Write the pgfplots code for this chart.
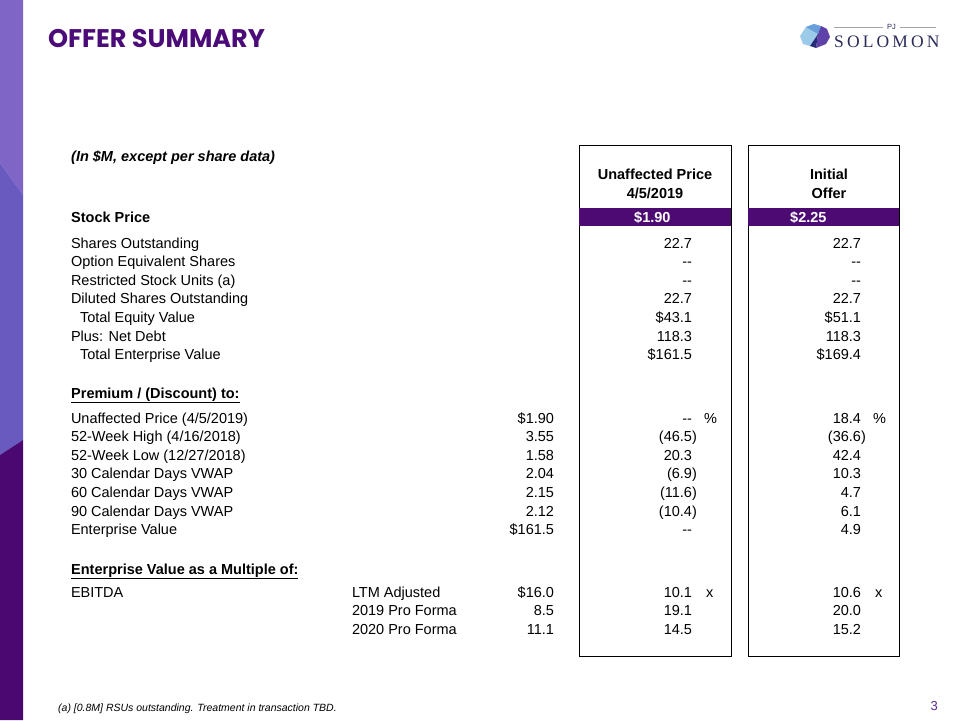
\documentclass[border=0pt]{standalone}
\usepackage{pgfplots}
\pgfplotsset{compat=1.18}
\usepackage{pgfplotstable}
\usepackage{fontspec}
\setmainfont{Liberation Sans}
\newfontfamily\titlefont{Poppins}
\newfontfamily\logofont{Liberation Serif}[LetterSpace=18]
\definecolor{band}{RGB}{77,10,115}
\definecolor{titlec}{RGB}{75,12,121}
\definecolor{stripA}{RGB}{127,102,198}
\definecolor{stripB}{RGB}{104,90,190}
\definecolor{stripC}{RGB}{74,8,112}
\definecolor{navy}{RGB}{44,44,90}
\definecolor{lblue}{RGB}{156,203,234}
\definecolor{mblue}{RGB}{105,160,218}
\definecolor{lpurp}{RGB}{95,65,170}
\definecolor{dnavy}{RGB}{40,44,120}
\definecolor{pagec}{RGB}{90,42,144}
\newcommand\body{\fontsize{14.5}{17}\selectfont}
\newcommand\ngv[1]{(#1\rlap{)}}
\newcommand\dd{-{}-}

\pgfplotstableread{
y t
248 22.7
266.6 \dd
285.2 \dd
303.8 22.7
322.4 \$43.1
341 118.3
359.6 \$161.5
423 \dd
441.6 \ngv{46.5}
460.2 20.3
478.8 \ngv{6.9}
497.4 \ngv{11.6}
516 \ngv{10.4}
534.6 \dd
597 10.1
615.6 19.1
634.2 14.5
}\colA

\pgfplotstableread{
y t
248 22.7
266.6 \dd
285.2 \dd
303.8 22.7
322.4 \$51.1
341 118.3
359.6 \$169.4
423 18.4
441.6 \ngv{36.6}
460.2 42.4
478.8 10.3
497.4 4.7
516 6.1
534.6 4.9
597 10.6
615.6 20.0
634.2 15.2
}\colB

\pgfplotstableread{
y t
423 \$1.90
441.6 3.55
460.2 1.58
478.8 2.04
497.4 2.15
516 2.12
534.6 \$161.5
597 \$16.0
615.6 8.5
634.2 11.1
}\colR

\pgfplotstableread{
x y t
71 248 {Shares Outstanding}
71 266.6 {Option Equivalent Shares}
71 285.2 {Restricted Stock Units (a)}
71 303.8 {Diluted Shares Outstanding}
80 322.4 {Total Equity Value}
71 341 {Plus: Net Debt}
80 359.6 {Total Enterprise Value}
71 423 {Unaffected Price (4/5/2019)}
71 441.6 {52-Week High (4/16/2018)}
71 460.2 {52-Week Low (12/27/2018)}
71 478.8 {30 Calendar Days VWAP}
71 497.4 {60 Calendar Days VWAP}
71 516 {90 Calendar Days VWAP}
71 534.6 {Enterprise Value}
71 597 {EBITDA}
352 597 {LTM Adjusted}
352 615.6 {2019 Pro Forma}
352 634.2 {2020 Pro Forma}
}\labels

\begin{document}
\begin{tikzpicture}
\begin{axis}[
  scale only axis, width=960pt, height=720pt,
  xmin=0, xmax=960, ymin=0, ymax=720, y dir=reverse,
  hide axis, clip=false,
  valtext/.style={only marks, mark=*, mark size=0.05pt, color=white,
    mark options={draw=white, fill=white, line width=0pt},
    nodes near coords, point meta=explicit symbolic,
    every node near coord/.append style={anchor=base east, inner sep=0pt, font=\body, text=black}},
  lbltext/.style={only marks, mark=*, mark size=0.05pt, color=white,
    mark options={draw=white, fill=white, line width=0pt},
    nodes near coords, point meta=explicit symbolic,
    every node near coord/.append style={anchor=base west, inner sep=0pt, font=\body, text=black}},
]
% background
\fill[white] (axis cs:0,0) rectangle (axis cs:960,720);
% left strip
\fill[stripA] (axis cs:0,0) -- (axis cs:23,0) -- (axis cs:23,195) -- (axis cs:0,163) -- cycle;
\fill[stripB] (axis cs:0,163) -- (axis cs:23,195) -- (axis cs:23,440) -- (axis cs:0,455) -- cycle;
\fill[stripC] (axis cs:0,455) -- (axis cs:23,440) -- (axis cs:23,720) -- (axis cs:0,720) -- cycle;
% title
\node[anchor=base west, inner sep=0pt, text=titlec, font=\titlefont\bfseries\fontsize{25.5}{28}\selectfont] at (axis cs:48,47) {OFFER SUMMARY};
% logo
\fill[lblue] (axis cs:800,36) -- (axis cs:806,27) -- (axis cs:814,24) -- (axis cs:818,34) -- (axis cs:810,46) -- (axis cs:803,44) -- cycle;
\fill[mblue] (axis cs:806,27) -- (axis cs:814,24) -- (axis cs:821,26) -- (axis cs:818,34) -- cycle;
\fill[lpurp] (axis cs:818,34) -- (axis cs:821,26) -- (axis cs:827,29) -- (axis cs:830,37) -- (axis cs:826,44) -- (axis cs:816,48) -- cycle;
\fill[dnavy] (axis cs:810,46) -- (axis cs:818,34) -- (axis cs:816,48) -- cycle;
\draw[gray!70, line width=0.7pt] (axis cs:834,27) -- (axis cs:883,27);
\draw[gray!70, line width=0.7pt] (axis cs:900,27) -- (axis cs:936,27);
\node[inner sep=0pt, text=navy, font=\fontsize{7.5}{8}\selectfont] at (axis cs:891.5,27) {PJ};
\node[anchor=base west, inner sep=0pt, text=navy, font=\logofont\fontsize{17.5}{19}\selectfont] at (axis cs:834,47) {SOLOMON};
% boxes
\draw[black, line width=0.9pt] (axis cs:579,145) rectangle (axis cs:731,656);
\draw[black, line width=0.9pt] (axis cs:748,145) rectangle (axis cs:899,656);
\fill[band] (axis cs:579,208) rectangle (axis cs:731,226);
\fill[band] (axis cs:748,208) rectangle (axis cs:899,226);
\node[anchor=base west, inner sep=0pt, text=white, font=\body\bfseries] at (axis cs:634,222) {\$1.90};
\node[anchor=base west, inner sep=0pt, text=white, font=\body\bfseries] at (axis cs:790,222) {\$2.25};
% headers
\node[anchor=base, inner sep=0pt, font=\body\bfseries] at (axis cs:655,179) {Unaffected Price};
\node[anchor=base, inner sep=0pt, font=\body\bfseries] at (axis cs:655,198) {4/5/2019};
\node[anchor=base, inner sep=0pt, font=\body\bfseries] at (axis cs:829,179) {Initial};
\node[anchor=base, inner sep=0pt, font=\body\bfseries] at (axis cs:829,198) {Offer};
\node[anchor=base west, inner sep=0pt, font=\body\bfseries\itshape] at (axis cs:71,161) {(In \$M, except per share data)};
\node[anchor=base west, inner sep=0pt, font=\body\bfseries] at (axis cs:71,222) {Stock Price};
\node[anchor=base west, inner sep=0pt, font=\body\bfseries] at (axis cs:71,398) {\underline{Premium / (Discount) to:}};
\node[anchor=base west, inner sep=0pt, font=\body\bfseries] at (axis cs:71,574) {\underline{Enterprise Value as a Multiple of:}};
% suffixes
\node[anchor=base west, inner sep=0pt, font=\body] at (axis cs:704,423) {\%};
\node[anchor=base west, inner sep=0pt, font=\body] at (axis cs:873,423) {\%};
\node[anchor=base west, inner sep=0pt, font=\body] at (axis cs:706,597) {x};
\node[anchor=base west, inner sep=0pt, font=\body] at (axis cs:875,597) {x};
% data columns
\addplot[lbltext] table[x=x, y=y, meta=t] {\labels};
\addplot[valtext] table[x expr=554, y=y, meta=t] {\colR};
\addplot[valtext] table[x expr=692, y=y, meta=t] {\colA};
\addplot[valtext] table[x expr=861, y=y, meta=t] {\colB};
% footer
\node[anchor=base west, inner sep=0pt, font=\itshape\fontsize{10.5}{12}\selectfont] at (axis cs:58,711) {(a) [0.8M] RSUs outstanding. Treatment in transaction TBD.};
\node[anchor=base east, inner sep=0pt, text=pagec, font=\fontsize{13}{14}\selectfont] at (axis cs:938,710) {3};
\end{axis}
\end{tikzpicture}
\end{document}
